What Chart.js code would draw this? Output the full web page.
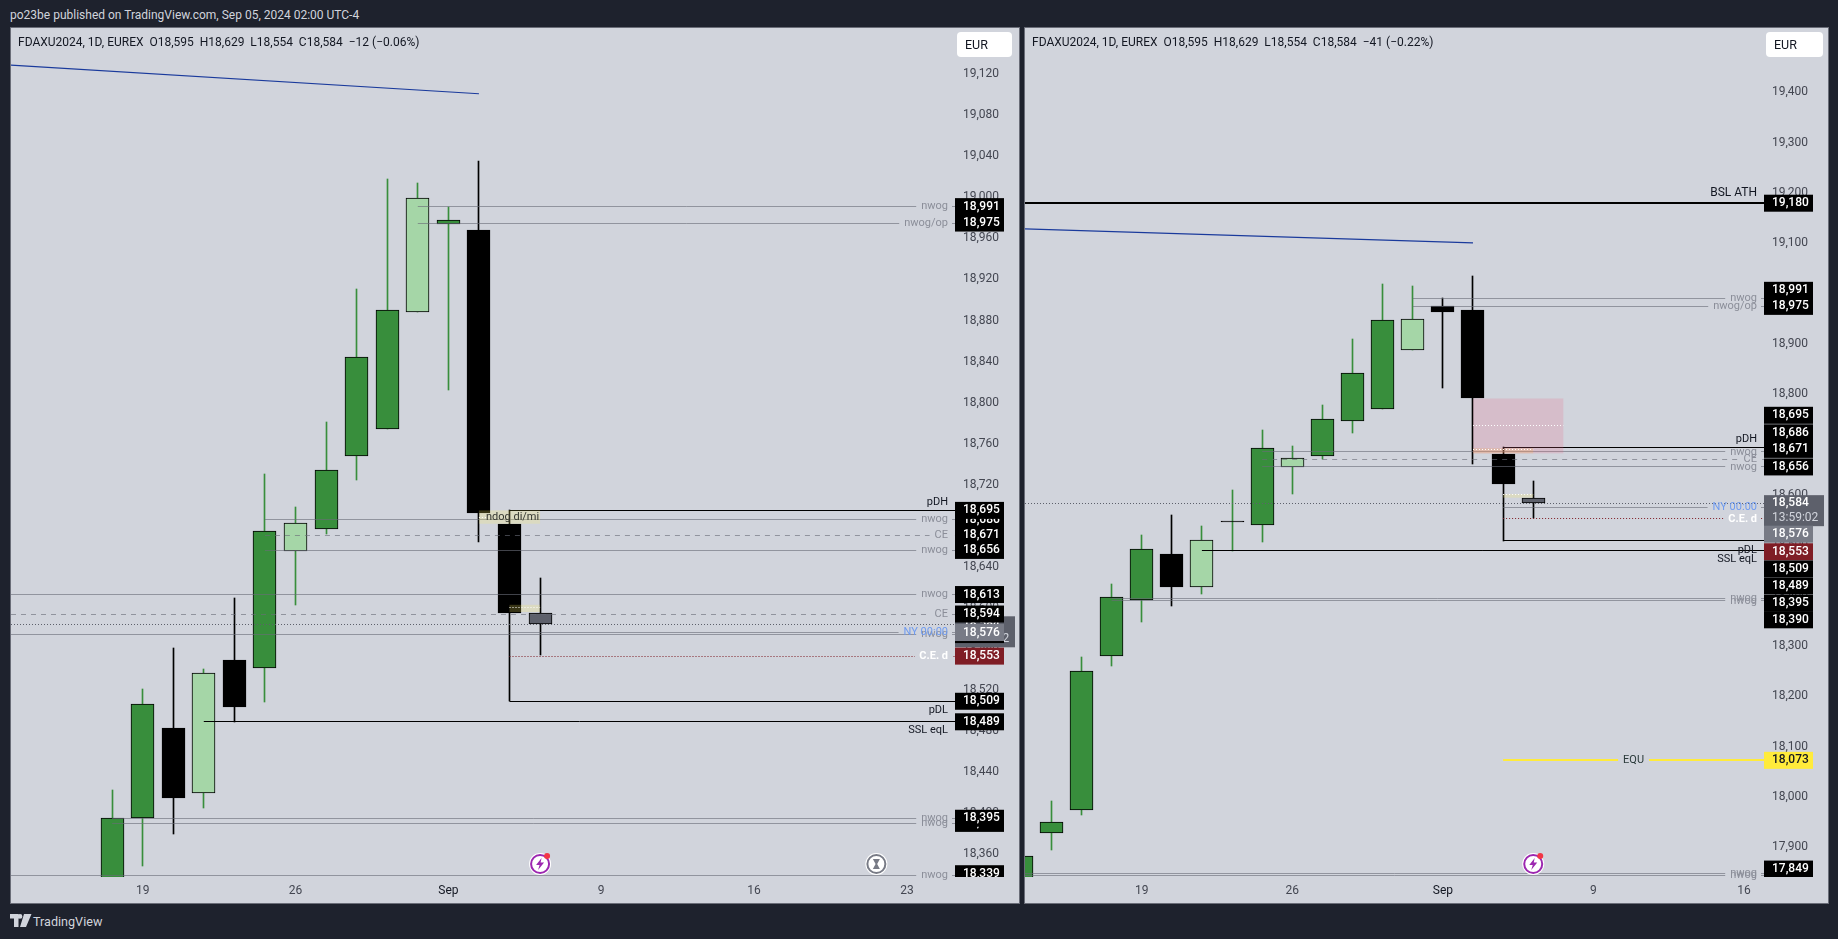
<!DOCTYPE html>
<html><head><meta charset="utf-8">
<script src="https://cdn.jsdelivr.net/npm/chart.js@4"></script>
<style>
html,body{margin:0;padding:0;background:#1e222d;width:1838px;height:939px;overflow:hidden}
body{font-family:Roboto,sans-serif}
.pane{position:absolute;top:27px;height:875px;background:#d1d4dc;border:1px solid #6a6d78;box-sizing:content-box}
canvas{position:absolute;left:0;top:0}
.txt{position:absolute;white-space:pre;font-size:12px;line-height:16px}
.legend{color:#131722;top:34px;z-index:3}
.eur{position:absolute;top:32px;height:25px;background:#fff;border-radius:4px;color:#131722;font-size:12.5px;line-height:26px;padding-left:8px;box-sizing:border-box;z-index:3}
</style></head><body>
<div class="txt" style="left:10px;top:7px;color:#d1d4dc">po23be published on TradingView.com, Sep 05, 2024 02:00 UTC-4</div>
<div class="pane" style="left:10px;width:1008px"><canvas id="cl"></canvas></div>
<div class="pane" style="left:1024px;width:803px"><canvas id="cr"></canvas></div>
<div class="txt legend" style="left:18px">FDAXU2024, 1D, EUREX  O18,595  H18,629  L18,554  C18,584  −12 (−0.06%)</div>
<div class="txt legend" style="left:1032px">FDAXU2024, 1D, EUREX  O18,595  H18,629  L18,554  C18,584  −41 (−0.22%)</div>
<div class="eur" style="left:957px;width:55px">EUR</div>
<div class="eur" style="left:1766px;width:57px">EUR</div>
<svg style="position:absolute;left:10px;top:914px" width="22" height="14" viewBox="0 0 22 14"><path fill="#d1d4dc" d="M0 0h8.5v13H4V4.5H0zM10 0a2.4 2.4 0 1 1 0 4.8a2.4 2.4 0 0 1 0-4.8zM14 0h7.5L16 13h-6z"/></svg>
<div class="txt" style="left:33px;top:914px;color:#d1d4dc;font-size:12.6px">TradingView</div>
<script>
/* LEFT PANE — candles */
const leftDates=['Aug 16','Aug 19','Aug 20','Aug 21','Aug 22','Aug 23','Aug 26','Aug 27','Aug 28','Aug 29','Aug 30','Sep 2','Sep 3','Sep 4','Sep 5'];
const leftOpen =[18281,18395,18483,18420,18549,18541,18655,18677,18748,18774,18888,18974,18968,18682,18595];
const leftClose=[18395,18506,18415,18537,18503,18675,18683,18734,18844,18890,18999,18978,18692,18595,18584];
const leftHigh =[18423,18521,18561,18540,18610,18730,18698,18781,18911,19018,19014,18991,19035,18695,18629];
const leftLow  =[18260,18348,18380,18405,18489,18508,18603,18672,18725,18774,18888,18812,18664,18509,18554];
const leftKinds=['g','g','k','l','k','g','l','g','g','g','l','g','k','k','s'];
/* RIGHT PANE — candles */
const rightDates=['Aug 13','Aug 14','Aug 15','Aug 16','Aug 19','Aug 20','Aug 21','Aug 22','Aug 23','Aug 26','Aug 27','Aug 28','Aug 29','Aug 30','Sep 2','Sep 3','Sep 4','Sep 5'];
const rightOpen =[17800,17929,17975,18281,18392,18483,18418,18548,18540,18655,18677,18747,18772,18888,18975,18967,18682,18595];
const rightClose=[17883,17950,18251,18398,18493,18418,18511,18548,18694,18674,18751,18843,18948,18950,18963,18792,18623,18584];
const rightHigh =[17900,17992,18279,18424,18521,18561,18539,18611,18730,18698,18780,18911,19019,19015,18991,19035,18695,18629];
const rightLow  =[17790,17895,17964,18261,18347,18379,18404,18489,18507,18603,18672,18724,18772,18888,18812,18662,18509,18554];
const rightKinds=['g','g','g','g','g','k','l','d','g','l','g','g','g','l','k','k','k','s'];
const aug19Left=1, aug19Right=4; // position of the Aug 19 bar in each date list
/* Axis ticks */
const leftPriceTicks=[19120,19080,19040,19000,18960,18920,18880,18840,18800,18760,18720,18680,18640,18600,18560,18520,18480,18440,18400,18360];
const rightPriceTicks=[19400,19300,19200,19100,19000,18900,18800,18700,18600,18500,18400,18300,18200,18100,18000,17900];
const leftTimeTicks=[0,5,10,15,20,25];
const leftTimeLabels=['19','26','Sep','9','16','23'];
const rightTimeTicks=[0,5,10,15,20];
const rightTimeLabels=['19','26','Sep','9','16'];
/* Horizontal levels, in paint order of their price tags */
const leftLevelValues=[18686,18390,18584,18574,18991,18975,18695,18671,18656,18613,18594,18576,18553,18509,18489,18395,18339];
const leftLevelStarts=[4,-1,null,null,9,9,12,4,4,null,null,12,12,12,2,-1,null];
const leftLevelKinds =['gray','gray','dot','gray','gray','gray','black','dash','gray','gray','dash','gray','red','black','black','gray','gray'];
const leftLevelNames =['nwog','nwog','','nwog','nwog','nwog/op','pDH','CE','nwog','nwog','CE','NY 00:00','C.E. d','pDL','SSL eqL','nwog','nwog'];
const leftTagKinds   =['k','k','timer','k','k','k','k','k','k','k','k','gray','red','k','k','k','k'];
const leftTagShifts  =[0,0,0,0,0,0,0,0,0,0,0,0,0,0,0,0,-2];
const rightLevelValues=[19180,18991,18975,18695,18686,18671,18656,18584,18576,18553,18509,18489,18395,18390,18073,17849,17845];
const rightLevelStarts=[null,9,9,12,4,4,4,null,12,12,12,2,-1,-1,12,null,null];
const rightLevelKinds =['thick','gray','gray','black','gray','dash','gray','dot','gray','red','black','black','gray','gray','yellow','gray','gray'];
const rightLevelNames =['BSL ATH','nwog','nwog/op','pDH','nwog','CE','nwog','','NY 00:00','C.E. d','pDL','SSL eqL','nwog','nwog','EQU','nwog','nwog'];
const rightTagKinds   =['k','k','k','k','k','k','k','timer','gray','red','k','k','k','k','yellow','k',''];
const rightTagShifts  =[0,-8,0,-32,-19,-10,0,0,27,33,28,35,5,19,0,-4,0];
/* Blue trend line */
const leftTrendX=[-4.34,11],  leftTrendY=[19129,19101];
const rightTrendX=[-3.89,11], rightTrendY=[19129,19101];
/* Zones: [fromIndex,toIndex,priceTop,priceBottom] */
const leftZones=[[11,13,18695,18682],[12,13,18603,18596]];
const rightZones=[[11,14,18792,18683],[11,13,18693,18683],[12,13,18602,18595]];
const leftZoneKinds=['ndog','ndog'], rightZoneKinds=['pink','orange','ndog'];
/* Dotted white midlines: [fromIndex,toIndex,price] */
const leftMids=[[11,11.25,18688],[12,13,18600]];
const rightMids=[[11,14,18738],[11,13,18690],[12,13,18601]];
const leftIcons=[[13,'bolt'],[24,'glass']], rightIcons=[[13,'bolt']];
const timerText='13:59:02';

const FONT='Roboto,sans-serif';
const bodyFill={g:'#388e3c',l:'#a5d6a7',k:'#000000',d:'#000000',s:'#5d606b'};
const wickFill={g:'#388e3c',l:'#388e3c',d:'#388e3c',k:'#000000',s:'#000000'};
const lineStyle={
 gray:{c:'rgba(105,108,120,.62)',w:1,d:[]},
 dash:{c:'rgba(105,108,120,.62)',w:1,d:[5,5]},
 dot:{c:'#5d606b',w:1,d:[1,2]},
 red:{c:'#7f1d25',w:1,d:[1,2]},
 black:{c:'#000',w:1,d:[]},
 thick:{c:'#000',w:2,d:[]},
 yellow:{c:'#ffeb3b',w:2,d:[]}
};
const zoneFill={ndog:'rgba(255,240,100,.22)',pink:'rgba(233,100,130,.2)',orange:'rgba(255,170,60,.22)'};
const tagFill={k:'#000',gray:'#787b86',red:'#7f1d25',yellow:'#ffeb3b',timer:'#5d606b'};
const fmt=v=>v.toLocaleString('en-US');
const noPad=s=>{s.paddingTop=0;s.paddingBottom=0;s.paddingLeft=0;s.paddingRight=0;};

function makeChart(id,c){
 const xOf=i=>i-c.zero;
 const bodies=c.dates.map((_,i)=>({x:xOf(i),y:[c.open[i],c.close[i]]}));
 const wicks=c.dates.map((_,i)=>({x:xOf(i),y:[c.low[i],c.high[i]]}));
 const datasets=[
  {type:'bar',order:5,grouped:false,barThickness:1,data:wicks,backgroundColor:c.kinds.map(k=>wickFill[k]),borderWidth:0,_snap:1},
  {type:'bar',order:4,grouped:false,barThickness:23,data:bodies,backgroundColor:c.kinds.map(k=>bodyFill[k]),borderColor:'#000',borderWidth:1,borderSkipped:false,_snap:1}
 ];
 c.values.forEach((v,i)=>{
  const s=lineStyle[c.lk[i]];
  const from=c.starts[i]===null?c.xMin:c.starts[i];
  datasets.push({type:'line',order:1,data:[{x:from,y:v},{x:c.xMax,y:v}],borderColor:s.c,borderWidth:s.w,borderDash:s.d,pointRadius:0,_hl:s.w});
 });
 datasets.push({type:'line',order:1,data:c.trendX.map((x,i)=>({x,y:c.trendY[i]})),borderColor:'#1a3a9c',borderWidth:1.2,pointRadius:0});
 const plugin={
  id:'tv',
  afterDatasetsUpdate(ch){
   ch.data.datasets.forEach((ds,di)=>{
    const m=ch.getDatasetMeta(di);
    if(ds._snap)m.data.forEach(el=>{
     el.x=Math.floor(el.x)+.5;el.y=Math.round(el.y);el.base=Math.round(el.base);
     if(Math.abs(el.y-el.base)<1)el.base=el.y+1;
    });
    if(ds._hl)m.data.forEach(p=>{p.y=ds._hl===2?Math.round(p.y):Math.floor(p.y)+.5;});
   });
  },
  afterDatasetsDraw(ch){
   const g=ch.ctx,X=ch.scales.x,Y=ch.scales.y,A=ch.chartArea;
   g.save();g.beginPath();g.rect(A.left,A.top,A.right-A.left,A.bottom-A.top);g.clip();
   c.zones.forEach((z,i)=>{
    const x0=X.getPixelForValue(z[0]),x1=X.getPixelForValue(z[1]),y0=Y.getPixelForValue(z[2]),y1=Y.getPixelForValue(z[3]);
    g.fillStyle=zoneFill[c.zoneKinds[i]];g.fillRect(x0,y0,x1-x0,y1-y0);
   });
   g.setLineDash([1,2]);g.strokeStyle='#fff';g.lineWidth=1;
   c.mids.forEach(m=>{
    const y=Math.floor(Y.getPixelForValue(m[2]))+.5;
    g.beginPath();g.moveTo(X.getPixelForValue(m[0]),y);g.lineTo(X.getPixelForValue(m[1]),y);g.stroke();
   });
   g.setLineDash([]);
   if(c.ndogText){
    g.font='11px '+FONT;g.fillStyle='#33352f';g.textAlign='center';g.textBaseline='middle';
    g.fillText(c.ndogText,X.getPixelForValue(c.ndogAt[0]),Y.getPixelForValue(c.ndogAt[1]));
   }
   /* icons */
   c.icons.forEach(ic=>{
    const x=X.getPixelForValue(ic[0]),y=A.bottom-13;
    g.fillStyle='#fff';g.beginPath();g.arc(x,y,11,0,7);g.fill();
    g.lineWidth=2;
    if(ic[1]==='bolt'){
     g.strokeStyle='#9c27b0';g.beginPath();g.arc(x,y,9,0,7);g.stroke();
     g.fillStyle='#9c27b0';g.beginPath();
     [[1.5,-6],[-4,1],[-.5,1],[-2,6],[4,-1.5],[.5,-1.5]].forEach((p,i)=>i?g.lineTo(x+p[0],y+p[1]):g.moveTo(x+p[0],y+p[1]));
     g.closePath();g.fill();
     g.fillStyle='#f23645';g.beginPath();g.arc(x+7,y-8,3,0,7);g.fill();
    }else{
     g.strokeStyle='#787b86';g.beginPath();g.arc(x,y,9,0,7);g.stroke();
     g.fillStyle='#787b86';g.beginPath();
     [[-3.5,-5],[3.5,-5],[.8,0],[3.5,5],[-3.5,5],[-.8,0]].forEach((p,i)=>i?g.lineTo(x+p[0],y+p[1]):g.moveTo(x+p[0],y+p[1]));
     g.closePath();g.fill();
    }
   });
   g.restore();
  },
  afterDraw(ch){
   const g=ch.ctx,X=ch.scales.x,Y=ch.scales.y,A=ch.chartArea;
   const tx=A.right-7;
   const offs={pDH:-8.5,pDL:9,'SSL eqL':8.5,'BSL ATH':-10};
   g.save();
   g.textBaseline='middle';
   /* gaps in the lines behind labels */
   g.font='11px '+FONT;
   c.names.forEach((nm,i)=>{
    if(!nm||offs[nm]!==undefined)return;
    const y=Y.getPixelForValue(c.values[i]),m=g.measureText(nm).width;
    g.fillStyle='#d1d4dc';
    if(nm==='EQU'){const cx=(X.getPixelForValue(c.starts[i])+A.right)/2;g.fillRect(cx-m/2-5,y-2,m+10,4);}
    else g.fillRect(tx-m-5,y-1,m+9,2);
   });
   c.names.forEach((nm,i)=>{
    if(!nm)return;
    const y=Y.getPixelForValue(c.values[i]);
    g.textAlign='right';
    g.font=(nm==='BSL ATH'?'12px ':nm==='C.E. d'?'bold 11px ':'11px ')+FONT;
    g.fillStyle=nm==='NY 00:00'?'#6f9bf0':nm==='C.E. d'?'#ffffff':offs[nm]!==undefined?'#131722':'#8b8e99';
    if(nm==='EQU'){g.textAlign='center';g.fillStyle='#2a3a3a';g.fillText(nm,(X.getPixelForValue(c.starts[i])+A.right)/2,y);return;}
    g.fillText(nm,tx,y+(offs[nm]||0));
   });
   /* price tags, clipped at the bottom of the plot */
   g.beginPath();g.rect(0,0,ch.width,A.bottom);g.clip();
   g.textAlign='left';
   c.tagKinds.forEach((k,i)=>{
    if(!k)return;
    const v=c.values[i],y=Y.getPixelForValue(v)+c.shifts[i],L=A.right;
    g.font='500 12px '+FONT;
    if(k==='timer'){
     g.fillStyle=tagFill.timer;g.fillRect(L,y-8,60,31);
     g.fillStyle='#fff';g.fillText(fmt(v),L+8,y);
     g.fillStyle='#d1d4dc';g.font='12px '+FONT;g.fillText(timerText,L+8,y+14.5);
     return;
    }
    g.fillStyle=tagFill[k];g.fillRect(L,y-8.5,49,17);
    g.fillStyle=k==='yellow'?'#131722':'#fff';
    g.fillText(fmt(v),L+8,y);
   });
   g.restore();
  }
 };
 return new Chart(document.getElementById(id),{
  type:'bar',
  data:{datasets},
  plugins:[plugin],
  options:{
   responsive:false,animation:false,
   layout:{padding:0},
   plugins:{legend:{display:false},tooltip:{enabled:false}},
   events:[],
   scales:{
    x:{type:'linear',offset:false,min:c.xMin,max:c.xMax,
     grid:{display:false,drawTicks:false},border:{display:false},
     afterFit(s){s.height=26;noPad(s);},
     afterBuildTicks(s){s.ticks=c.timeTicks.map(value=>({value}))},
     ticks:{autoSkip:false,maxRotation:0,padding:7,font:{family:FONT,size:12},
      color:ctx=>c.timeLabels[c.timeTicks.indexOf(ctx.tick.value)]==='Sep'?'#131722':'#434651',
      callback:v=>c.timeLabels[c.timeTicks.indexOf(v)]}},
    y:{type:'linear',position:'right',min:c.yMin,max:c.yMax,
     grid:{display:false,drawTicks:false},border:{display:false},
     afterFit(s){s.width=c.axisW;noPad(s);},
     afterBuildTicks(s){s.ticks=c.priceTicks.map(value=>({value}))},
     ticks:{autoSkip:false,padding:8,color:'#434651',font:{family:FONT,size:12},callback:v=>fmt(v)}}
   }
  }
 });
}
const lc=document.getElementById('cl');lc.width=1008;lc.height=875;lc.style.width='1008px';lc.style.height='875px';
const rc=document.getElementById('cr');rc.width=803;rc.height=875;rc.style.width='803px';rc.style.height='875px';
makeChart('cl',{
 dates:leftDates,open:leftOpen,close:leftClose,high:leftHigh,low:leftLow,kinds:leftKinds,zero:aug19Left,
 xMin:(11-142.5)/30.54,xMax:(954-142.5)/30.54,yMin:18640-(876-566.2)/1.025,yMax:18640+(566.2-28)/1.025,axisW:64,
 values:leftLevelValues,starts:leftLevelStarts,lk:leftLevelKinds,names:leftLevelNames,tagKinds:leftTagKinds,shifts:leftTagShifts,
 trendX:leftTrendX,trendY:leftTrendY,zones:leftZones,zoneKinds:leftZoneKinds,mids:leftMids,icons:leftIcons,
 priceTicks:leftPriceTicks,timeTicks:leftTimeTicks,timeLabels:leftTimeLabels,ndogText:'ndog di/mi',ndogAt:[12.1,18688.5]
});
makeChart('cr',{
 dates:rightDates,open:rightOpen,close:rightClose,high:rightHigh,low:rightLow,kinds:rightKinds,zero:aug19Right,
 xMin:(1025-1141.5)/30.08,xMax:(1763-1141.5)/30.08,yMin:19400-(876-92.4)/.5027,yMax:19400+(92.4-28)/.5027,axisW:64,
 values:rightLevelValues,starts:rightLevelStarts,lk:rightLevelKinds,names:rightLevelNames,tagKinds:rightTagKinds,shifts:rightTagShifts,
 trendX:rightTrendX,trendY:rightTrendY,zones:rightZones,zoneKinds:rightZoneKinds,mids:rightMids,icons:rightIcons,
 priceTicks:rightPriceTicks,timeTicks:rightTimeTicks,timeLabels:rightTimeLabels
});
</script>
</body></html>
